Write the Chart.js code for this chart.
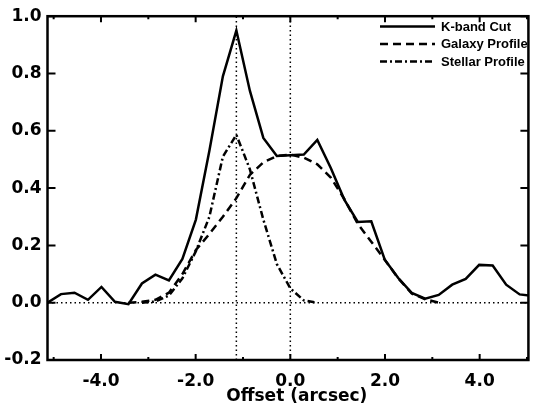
<!DOCTYPE html>
<html>
<head>
<meta charset="utf-8">
<script src="https://cdn.jsdelivr.net/npm/chart.js@4.4.1/dist/chart.umd.min.js"></script>
<style>
  html, body { margin: 0; padding: 0; background: #fff; }
  #chart { display: block; }
</style>
</head>
<body>
<canvas id="chart" width="538" height="410"></canvas>
<script>
// Offsets along the cut (arcsec), one per detector pixel
const offsets = [-5.13, -4.845, -4.56, -4.275, -3.99, -3.705, -3.42, -3.135, -2.85, -2.565,
  -2.28, -1.995, -1.71, -1.425, -1.14, -0.855, -0.57, -0.285, 0, 0.285,
  0.57, 0.855, 1.14, 1.425, 1.71, 1.995, 2.28, 2.565, 2.85, 3.135,
  3.42, 3.705, 3.99, 4.275, 4.56, 4.845, 5.13];

// K-band cut, normalised
const kbandCut = [0.0, 0.03, 0.035, 0.01, 0.055, 0.003, -0.005, 0.067, 0.098, 0.078,
  0.153, 0.29, 0.53, 0.79, 0.95, 0.74, 0.575, 0.512, 0.515, 0.517,
  0.568, 0.47, 0.36, 0.282, 0.284, 0.15, 0.086, 0.034, 0.014, 0.027,
  0.063, 0.083, 0.132, 0.13, 0.063, 0.029, 0.024];

// model profiles only cover part of the cut
const galaxyOffsets = [-3.42, -3.135, -2.85, -2.565, -2.28, -1.995, -1.71, -1.425, -1.14, -0.855,
  -0.57, -0.285, 0, 0.285, 0.57, 0.855, 1.14, 1.425, 1.71, 1.995,
  2.28, 2.565, 2.85, 3.135];
const galaxyProfile = [0.0, 0.003, 0.01, 0.035, 0.1, 0.184, 0.24, 0.3, 0.365, 0.446,
  0.49, 0.512, 0.517, 0.506, 0.483, 0.437, 0.362, 0.275, 0.213, 0.15,
  0.085, 0.032, 0.012, 0.0];

const stellarOffsets = [-3.135, -2.85, -2.565, -2.28, -1.995, -1.71, -1.425, -1.14, -0.855, -0.57,
  -0.285, 0, 0.285, 0.57];
const stellarProfile = [0.0, 0.004, 0.025, 0.085, 0.18, 0.3, 0.51, 0.586, 0.466, 0.29,
  0.135, 0.05, 0.008, 0.0];

// reference lines
const xRange = [-5.13, 5.03];
const yRange = [-0.2, 1.0];
const markerOffsets = [-1.14, 0];
const xTickValues = [-5, -4, -3, -2, -1, 0, 1, 2, 3, 4, 5];
const yTickValues = [-0.2, 0, 0.2, 0.4, 0.6, 0.8, 1.0];

function pts(xs, ys) {
  return xs.map((x, i) => ({ x: x, y: ys[i] }));
}

const dotted = [1.5, 3];

const datasets = [
  { label: 'K-band Cut', data: pts(offsets, kbandCut), borderDash: [] },
  { label: 'Galaxy Profile', data: pts(galaxyOffsets, galaxyProfile), borderDash: [8, 5] },
  { label: 'Stellar Profile', data: pts(stellarOffsets, stellarProfile), borderDash: [7, 3, 2, 3] },
  { label: 'zero', data: pts(xRange, [0, 0]), borderDash: dotted, borderWidth: 1.5 },
  { label: 'mark1', data: pts([markerOffsets[0], markerOffsets[0]], yRange), borderDash: dotted, borderWidth: 1.5 },
  { label: 'mark2', data: pts([markerOffsets[1], markerOffsets[1]], yRange), borderDash: dotted, borderWidth: 1.5 }
].map(d => Object.assign({
  borderColor: '#000',
  borderWidth: 2.5,
  pointRadius: 0,
  tension: 0,
  fill: false
}, d));

const tickFont = { family: '"DejaVu Sans"', size: 17, weight: 'bold' };

// frame with inward ticks on all four sides, plus the legend box
const frameAndLegend = {
  id: 'frameAndLegend',
  afterDraw(chart) {
    const ctx = chart.ctx;
    const a = chart.chartArea;
    const x = chart.scales.x, y = chart.scales.y;
    ctx.save();
    ctx.strokeStyle = '#000';
    ctx.setLineDash([]);
    ctx.lineWidth = 2.5;
    ctx.strokeRect(a.left, a.top, a.right - a.left, a.bottom - a.top);

    ctx.lineWidth = 2;
    ctx.beginPath();
    xTickValues.forEach(v => {
      const px = x.getPixelForValue(v);
      const len = (v % 2 === 0) ? 6 : 3;
      ctx.moveTo(px, a.bottom); ctx.lineTo(px, a.bottom - len);
      ctx.moveTo(px, a.top); ctx.lineTo(px, a.top + len);
    });
    yTickValues.forEach(v => {
      const py = y.getPixelForValue(v);
      ctx.moveTo(a.left, py); ctx.lineTo(a.left + 8, py);
      ctx.moveTo(a.right, py); ctx.lineTo(a.right - 8, py);
    });
    ctx.stroke();

    // legend
    const lx0 = 380, lx1 = 435, rowY = [26.5, 44, 61.5];
    ctx.font = 'bold 13px "Liberation Sans"';
    ctx.fillStyle = '#000';
    ctx.textBaseline = 'middle';
    ctx.textAlign = 'left';
    for (let i = 0; i < 3; i++) {
      const ds = chart.data.datasets[i];
      ctx.lineWidth = ds.borderWidth;
      ctx.setLineDash(ds.borderDash);
      ctx.beginPath();
      ctx.moveTo(lx0, rowY[i]);
      ctx.lineTo(lx1, rowY[i]);
      ctx.stroke();
      ctx.fillText(ds.label, 441, rowY[i] + 0.5);
    }
    ctx.restore();
  }
};

new Chart(document.getElementById('chart'), {
  type: 'line',
  data: { datasets: datasets },
  options: {
    responsive: false,
    animation: false,
    layout: { padding: { top: 11, right: 2, left: 0, bottom: 0 } },
    plugins: {
      legend: { display: false },
      tooltip: { enabled: false }
    },
    scales: {
      x: {
        type: 'linear',
        min: xRange[0],
        max: xRange[1],
        afterBuildTicks: s => { s.ticks = xTickValues.map(v => ({ value: v })); },
        afterFit: s => { s.height = 50; },
        grid: { display: false, drawTicks: false },
        border: { display: false },
        ticks: {
          padding: 11,
          color: '#000',
          font: tickFont,
          maxRotation: 0,
          autoSkip: false,
          callback: v => (v % 2 === 0 ? v.toFixed(1) : '')
        },
        title: {
          display: true,
          text: '   Offset (arcsec)',
          color: '#000',
          font: tickFont,
          padding: { top: 0, bottom: 3 }
        }
      },
      y: {
        type: 'linear',
        min: yRange[0],
        max: yRange[1],
        afterBuildTicks: s => { s.ticks = yTickValues.map(v => ({ value: v })); },
        afterFit: s => { s.width = 47.5; },
        grid: { display: false, drawTicks: false },
        border: { display: false },
        ticks: {
          padding: 6,
          color: '#000',
          font: tickFont,
          callback: v => v.toFixed(1)
        }
      }
    }
  },
  plugins: [frameAndLegend]
});
</script>
</body>
</html>
